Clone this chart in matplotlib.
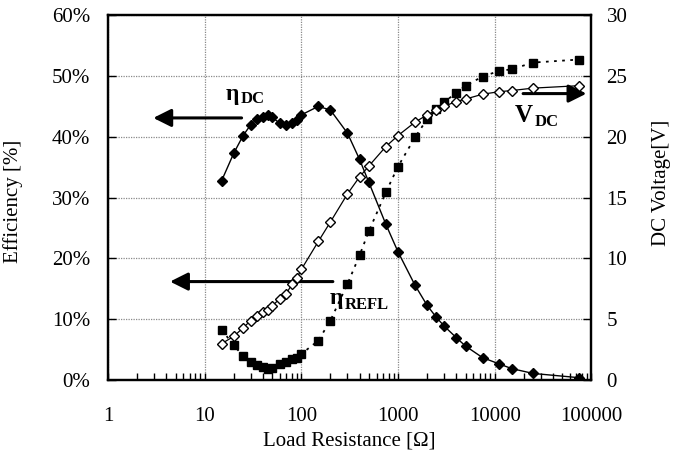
import numpy as np
import matplotlib
matplotlib.use("Agg")
import matplotlib.pyplot as plt
from matplotlib.ticker import FixedLocator, FuncFormatter, LogLocator, NullFormatter

plt.rcParams['font.family'] = ['Liberation Serif', 'DejaVu Serif']

# -----------------------------
# DATA
# -----------------------------
load_r = [15, 20, 25, 30, 35, 40, 45, 50, 60, 70, 80, 90, 100, 150, 200, 300,
          400, 500, 750, 1000, 1500, 2000, 2500, 3000, 4000, 5000, 7500,
          11000, 15000, 25000, 75000]

eta_dc = [32.8, 37.3, 40.2, 42.0, 42.9, 43.3, 43.6, 43.2, 42.2, 41.9, 42.2,
          42.7, 43.6, 45.0, 44.4, 40.6, 36.3, 32.5, 25.6, 21.1, 15.6, 12.3,
          10.3, 8.9, 7.0, 5.6, 3.7, 2.7, 1.9, 1.1, 0.4]

eta_refl = [8.3, 5.7, 4.0, 3.0, 2.5, 2.1, 1.9, 2.0, 2.6, 3.0, 3.4, 3.7, 4.3,
            6.5, 9.8, 15.8, 20.5, 24.5, 30.9, 35.1, 39.9, 42.9, 44.5, 45.7,
            47.2, 48.4, 49.9, 50.8, 51.1, 52.2, 52.7]

v_dc = [3.0, 3.6, 4.3, 4.9, 5.3, 5.6, 5.8, 6.1, 6.7, 7.1, 7.9, 8.4, 9.1,
        11.4, 13.0, 15.3, 16.7, 17.6, 19.2, 20.1, 21.2, 21.8, 22.2, 22.5,
        22.9, 23.1, 23.5, 23.7, 23.8, 24.0, 24.2]

x_ticks = [1, 10, 100, 1000, 10000, 100000]
eff_ticks = [0, 10, 20, 30, 40, 50, 60]
volt_ticks = [0, 5, 10, 15, 20, 25, 30]

# -----------------------------
# FIGURE
# -----------------------------
fig = plt.figure(figsize=(6.75, 4.58), dpi=100)
ax = fig.add_axes([0.16, 0.170, 0.716, 0.797])
ax2 = ax.twinx()

ax.set_xscale('log')
ax.set_xlim(1, 100000)
ax.set_ylim(0, 60)
ax2.set_ylim(0, 30)

# grid
ax.grid(True, which='major', color='#8a8a8a', linestyle=(0, (1, 1)), lw=0.9)
ax.set_axisbelow(True)

# efficiency curves
ax.plot(load_r, eta_dc, color='k', lw=1.0, marker='D', ms=5.2,
        mfc='k', mec='k', zorder=3)
ax.plot(load_r, eta_refl, color='k', lw=1.3, linestyle=(0, (1.5, 3)),
        marker='s', ms=6.2, mfc='k', mec='k', zorder=3)

# voltage curve
ax2.plot(load_r, v_dc, color='k', lw=0.9, marker='D', ms=4.8,
         mfc='white', mec='k', mew=1.0, zorder=3)

# ticks
ax.xaxis.set_major_locator(FixedLocator(x_ticks))
ax.xaxis.set_major_formatter(FuncFormatter(lambda v, p: '%d' % round(v)))
ax.xaxis.set_minor_locator(LogLocator(base=10, subs=np.arange(2, 10)))
ax.xaxis.set_minor_formatter(NullFormatter())
ax.set_yticks(eff_ticks)
ax.yaxis.set_major_formatter(FuncFormatter(lambda v, p: '%d%%' % v))
ax2.set_yticks(volt_ticks)

ax.tick_params(axis='x', which='both', direction='in', length=5, width=1,
               labelsize=15, pad=19, top=False)
ax.tick_params(axis='y', which='both', direction='in', length=6, width=1,
               labelsize=15, pad=13, right=False)
ax2.tick_params(axis='y', direction='in', length=6, width=1,
                labelsize=15, pad=11)

for a in (ax, ax2):
    for s in a.spines.values():
        s.set_linewidth(1.6)
        s.set_color('k')

ax.set_xlabel('Load Resistance [\u03a9]', fontsize=15, labelpad=4)
ax.set_ylabel('Efficiency [%]', fontsize=15)
ax2.set_ylabel('DC Voltage[V]', fontsize=15)
ax.yaxis.set_label_coords(-0.176, 0.49)
ax2.yaxis.set_label_coords(1.125, 0.54)

# -----------------------------
# ARROWS + CURVE LABELS
# -----------------------------
arrow = dict(arrowstyle='-|>,head_length=0.4,head_width=0.2', lw=2.2,
             color='k', mutation_scale=27, shrinkA=0, shrinkB=0)

ax.annotate('', xy=(2.94, 43.1), xytext=(24.1, 43.1), arrowprops=arrow, zorder=5)
ax.annotate('', xy=(4.38, 16.2), xytext=(212, 16.2), arrowprops=arrow, zorder=5)
ax.annotate('', xy=(89100, 47.1), xytext=(19700, 47.1), arrowprops=arrow, zorder=5)

ax.text(16.6, 46.0, '\u03b7', fontsize=17, fontweight='bold', zorder=6)
ax.text(23.7, 45.5, 'DC', fontsize=12, fontweight='bold', zorder=6)

ax.text(198, 12.5, '\u03b7', fontsize=17, fontweight='bold', zorder=6)
ax.text(282, 11.7, 'REFL', fontsize=12, fontweight='bold', zorder=6)

ax.text(16200, 42.4, 'V', fontsize=18, fontweight='bold', zorder=6)
ax.text(26000, 41.75, 'DC', fontsize=12, fontweight='bold', zorder=6)

plt.savefig('out.png', dpi=100)
plt.close()
